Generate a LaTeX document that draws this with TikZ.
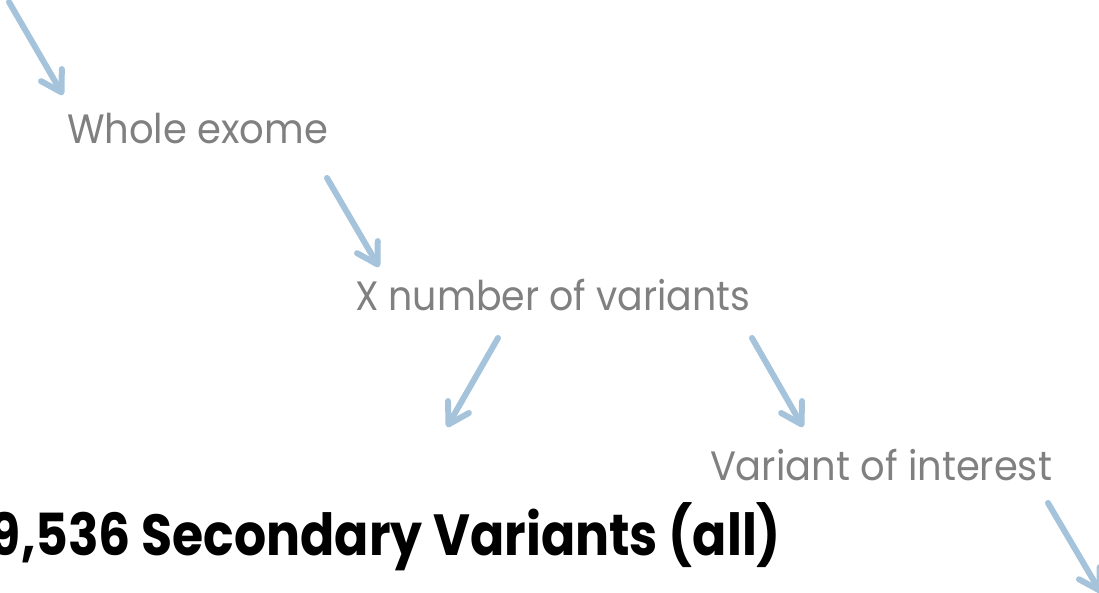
\documentclass[tikz,border=0pt]{standalone}
\usepackage{fontspec}
\setmainfont{Poppins}
\usetikzlibrary{arrows.meta}
\definecolor{arrowblue}{RGB}{165,196,220}
\definecolor{labelgray}{RGB}{128,128,128}
\newcommand\fitwidth[2]{\resizebox{#1}{\height}{#2}}
\tikzset{
  flow/.style={draw=arrowblue, line width=6pt, line cap=round, line join=round,
    -{Straight Barb[length=20pt,width=24pt,line cap=round,line join=round]}},
  lbl/.style={inner sep=0pt, outer sep=0pt, text=labelgray, font=\fontsize{41}{48}\selectfont},
  titletext/.style={inner sep=0pt, outer sep=0pt, text=black, font=\fontsize{58}{64}\selectfont\bfseries}
}
\begin{document}
\begin{tikzpicture}[x=1pt,y=-1pt]
\useasboundingbox (0,0) rectangle (1099,592);
\node[lbl, anchor=base west] (whole) at (67,143) {\fitwidth{261pt}{Whole exome}};
\node[lbl, anchor=base west] (xnum) at (355,310) {\fitwidth{395pt}{X number of variants}};
\node[lbl, anchor=base west] (voi) at (710,480) {\fitwidth{342pt}{Variant of interest}};
\node[titletext, anchor=base east] (title) at (781,555) {\fitwidth{791pt}{9,536 Secondary Variants (all)}};
\coordinate (a1s) at (9,2);
\coordinate (a1e) at (63,95);
\coordinate (a2s) at (327,178);
\coordinate (a2e) at (379,267);
\coordinate (a3s) at (498,338);
\coordinate (a3e) at (447,427);
\coordinate (a4s) at (752,338);
\coordinate (a4e) at (803,427);
\coordinate (a5s) at (1048,503);
\coordinate (a5e) at (1101,593);
\draw[flow] (a1s) -- (a1e);
\draw[flow] (a2s) -- (a2e);
\draw[flow] (a3s) -- (a3e);
\draw[flow] (a4s) -- (a4e);
\draw[flow] (a5s) -- (a5e);
\end{tikzpicture}
\end{document}
